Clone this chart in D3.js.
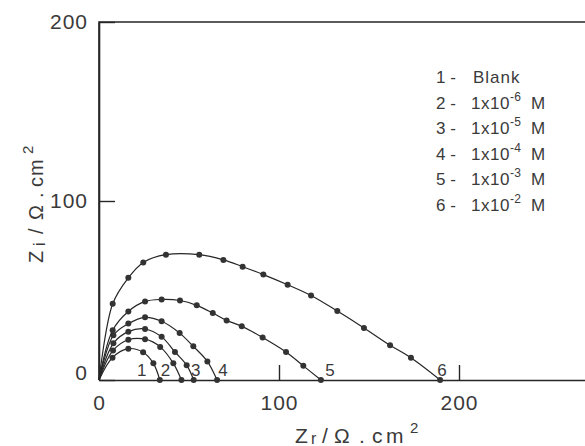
<!DOCTYPE html>
<html>
<head>
<meta charset="utf-8">
<script src="https://cdn.jsdelivr.net/npm/d3@7"></script>
<style>
  html, body { margin: 0; padding: 0; background: #fff; }
  svg { display: block; background: #fff; }
  text { font-family: "Liberation Sans", Arial, sans-serif; fill: #3a3a3a; }
</style>
</head>
<body>
<svg id="chart" width="585" height="446"></svg>
<script>
// Nyquist plots: [Zr, Zi] in ohm.cm2 for each inhibitor concentration
const curve1 = [[7.5, 12.5], [16.3, 17.5], [24.5, 15.5], [30.2, 9.3], [33.8, 0]];
const curve2 = [[7.8, 16.5], [16.3, 22.5], [25.6, 22.8], [34.0, 18.5], [41.3, 9.3], [45.8, 0]];
const curve3 = [[8.0, 20.5], [16.3, 27.0], [25.6, 28.5], [34.8, 24.1], [42.2, 15.7], [48.7, 8.3], [52.6, 0]];
const curve4 = [[8.0, 25.0], [16.3, 31.5], [25.6, 35.0], [34.8, 32.8], [44.8, 26.2], [52.4, 18.8], [60.2, 10.4], [65.6, 0]];
const curve5 = [[7.6, 27.8], [16.3, 38.3], [25.6, 43.9], [34.8, 45.0], [45.0, 44.4], [54.3, 41.7], [63.2, 37.4],
                [70.9, 33.3], [79.3, 30.0], [90.9, 23.7], [103.9, 15.6], [113.5, 7.9], [123.3, 0]];
const curve6 = [[7.6, 42.6], [16.3, 57.1], [24.6, 65.7], [37.2, 70.0], [55.7, 70.0], [69.1, 67.1], [79.8, 63.3],
                [91.3, 58.9], [104.8, 53.2], [117.8, 47.2], [132.4, 38.5], [147.2, 29.1], [161.7, 19.4],
                [173.3, 12.4], [189.5, 0]];

const curves = [curve1, curve2, curve3, curve4, curve5, curve6];
const curveNames = ["1", "2", "3", "4", "5", "6"];
const legendText = ["Blank", "1x10", "1x10", "1x10", "1x10", "1x10"];
const legendExp = ["", "-6", "-5", "-4", "-3", "-2"];
const xTicks = [0, 100, 200];
const yTicks = [0, 100, 200];

// horizontal nudge (px) of each curve number relative to where it meets the axis
const endLabelShift = [-18, -16, 2, 6, 9, 2];

const svg = d3.select("#chart");
const ink = "#262626";

const x = d3.scaleLinear().domain([0, 270]).range([99, 585]);
const y = d3.scaleLinear().domain([0, 200]).range([380, 22]);

// frame: left axis, top border, bottom axis
svg.append("path")
  .attr("d", `M${x(0)},${y(0)} V${y(200)} H${x(270) + 10}`)
  .attr("fill", "none").attr("stroke", ink).attr("stroke-width", 1.6);

const xAxis = svg.append("g")
  .attr("transform", `translate(0,${y(0)})`)
  .call(d3.axisBottom(x).tickValues(xTicks).tickFormat(d3.format("d"))
    .tickSizeInner(-15).tickSizeOuter(0).tickPadding(15));
const yAxis = svg.append("g")
  .attr("transform", `translate(${x(0)},0)`)
  .call(d3.axisLeft(y).tickValues(yTicks).tickFormat(d3.format("d"))
    .tickSizeInner(-16).tickSizeOuter(0).tickPadding(11));

[xAxis, yAxis].forEach(g => {
  g.attr("font-family", null).attr("font-size", null).style("color", ink);
  g.select(".domain").attr("stroke-width", 1.6);
  g.selectAll(".tick line").attr("stroke-width", 1.4);
  g.selectAll(".tick text").style("font-size", "21px").style("letter-spacing", "1px")
    .style("fill", "#3a3a3a");
});
// the origin label on the vertical axis sits a little above the corner
yAxis.selectAll(".tick").filter(d => d === 0).select("text").attr("y", -7);

// curves, each starting at the origin
const line = d3.line()
  .x(d => x(d[0])).y(d => y(d[1]))
  .curve(d3.curveCatmullRom.alpha(0.5));

curves.forEach((pts, i) => {
  svg.append("path")
    .datum([[0, 0]].concat(pts))
    .attr("d", line)
    .attr("fill", "none").attr("stroke", ink).attr("stroke-width", 1.2);

  svg.append("g").selectAll("circle")
    .data(pts)
    .join("circle")
    .attr("cx", d => x(d[0])).attr("cy", d => y(d[1]))
    .attr("r", 3).attr("fill", "#333");

  const end = pts[pts.length - 1];
  svg.append("text")
    .attr("x", x(end[0]) + endLabelShift[i])
    .attr("y", y(end[1]) - 4)
    .attr("text-anchor", "middle")
    .style("font-size", "17px")
    .text(curveNames[i]);
});

// legend
const legend = svg.append("g");
curveNames.forEach((name, i) => {
  const yy = 83 + i * 25.6;
  legend.append("text").attr("x", 436).attr("y", yy).style("font-size", "17px")
    .text(name + " -");
  const t = legend.append("text").attr("x", legendExp[i] ? 471 : 473).attr("y", yy)
    .style("font-size", "17px").style("letter-spacing", legendExp[i] ? "0.5px" : "1px");
  t.append("tspan").text(legendText[i]);
  if (legendExp[i]) {
    t.append("tspan").attr("dy", -8).style("font-size", "12px").text(legendExp[i]);
    t.append("tspan").attr("x", 531).attr("dy", 8).text("M");
  }
});

// axis titles, glyph groups spaced out along the baseline
const xt = svg.append("text").attr("y", 443).style("font-size", "21px");
xt.append("tspan").attr("x", 295).text("Z");
xt.append("tspan").attr("x", 311).attr("dy", 1).style("font-size", "16px").text("r");
xt.append("tspan").attr("x", 322).attr("dy", -1).text("/");
xt.append("tspan").attr("x", 334).text("Ω");
xt.append("tspan").attr("x", 359).text(".");
xt.append("tspan").attr("x", 372).text("c");
xt.append("tspan").attr("x", 386).text("m");
xt.append("tspan").attr("x", 410).attr("dy", -10).style("font-size", "15px").text("2");

const yt = svg.append("text").attr("transform", "translate(43,265) rotate(-90)")
  .style("font-size", "20px");
yt.append("tspan").attr("x", 2).text("Z");
yt.append("tspan").attr("x", 19).attr("dy", 2).style("font-size", "16px").text("i");
yt.append("tspan").attr("x", 31).attr("dy", -2).text("/");
yt.append("tspan").attr("x", 45).text("Ω");
yt.append("tspan").attr("x", 67).text(".");
yt.append("tspan").attr("x", 78).text("c");
yt.append("tspan").attr("x", 89).text("m");
yt.append("tspan").attr("x", 111).attr("dy", -10).style("font-size", "15px").text("2");
</script>
</body>
</html>
